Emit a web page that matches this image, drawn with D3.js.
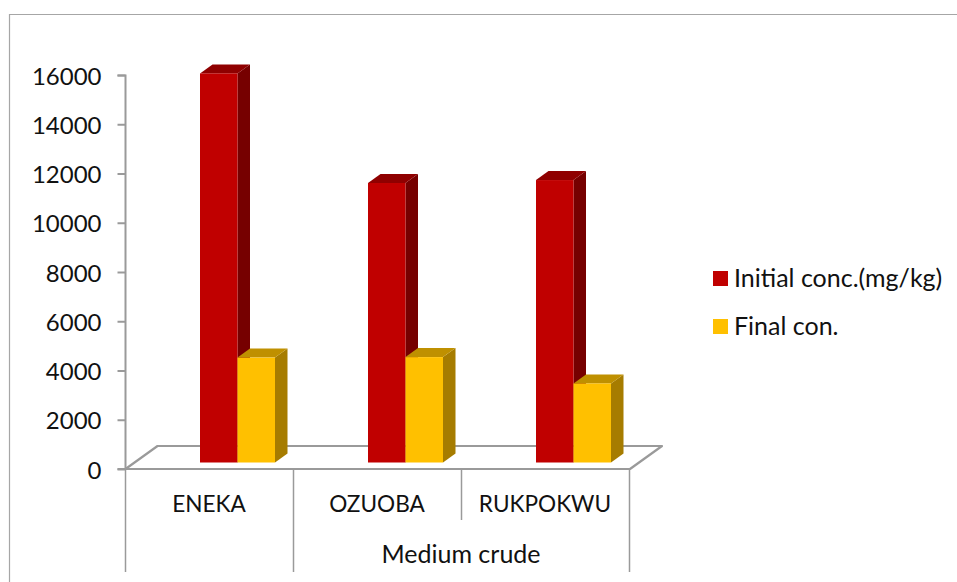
<!DOCTYPE html>
<html><head><meta charset="utf-8">
<script src="https://cdn.jsdelivr.net/npm/d3@7"></script>
<style>html,body{margin:0;padding:0;background:#fff}svg{display:block}text{font-family:Lato,"Open Sans",sans-serif;fill:#111}</style>
</head><body><svg id="c" width="957" height="582"></svg>
<script>
const categories=["ENEKA","OZUOBA","RUKPOKWU"];
const groupLabel="Medium crude";
const seriesNames=["Initial conc.(mg/kg)","Final con."];
const initialConc=[15800,11350,11470];
const finalCon=[4260,4280,3210];
const yTicks=[0,2000,4000,6000,8000,10000,12000,14000,16000];
const colors=[{f:"#c00000",t:"#8f0000",s:"#760000"},{f:"#ffc000",t:"#bf9000",s:"#a67c00"}];

const svg=d3.select("#c");
const y=d3.scaleLinear().domain([0,16000]).range([469,75]);
const x=d3.scaleBand().domain(categories).range([125.5,629.5]);
const inner=d3.scaleBand().domain(seriesNames).range([74.5,149.5]);
const grey="#9a9a9a";
svg.append("path").attr("d","M9.5,582V14.5H957").attr("fill","none").attr("stroke","#a6a6a6").attr("stroke-width",1.2);
const floorD={dx:32,dy:-23};
svg.append("path").attr("d",`M125.5,469 l${floorD.dx},${floorD.dy} H662 l${-floorD.dx},${-floorD.dy} H125.5`)
 .attr("fill","#fff").attr("stroke",grey).attr("stroke-width",2.2).attr("stroke-linejoin","round");
const yAxis=d3.axisLeft(y).tickValues(yTicks).tickFormat(d3.format("d")).tickSize(8).tickPadding(16);
const ga=svg.append("g").attr("transform","translate(125.5,0)").call(yAxis);
ga.selectAll("path,line").attr("stroke",grey).attr("stroke-width",2);
ga.select(".domain").attr("d","M-8,75.5H0V469H-8");
ga.selectAll("text").attr("font-size",24).attr("fill","#111").attr("font-family","Lato").attr("dy","0.38em");
const edges=[125.5,293.5,461.5,629.5];
const edgeEnd=[572,572,520,572];
svg.selectAll(".div").data(edges).join("line").attr("class","div")
 .attr("x1",d=>d).attr("x2",d=>d).attr("y1",469).attr("y2",(d,i)=>edgeEnd[i]).attr("stroke",grey).attr("stroke-width",1.5);
const baseY=462.5, depth={dx:12.5,dy:-9};
const shiftY=baseY-469;
[initialConc,finalCon].forEach((vals,si)=>{
  const c=colors[si];
  categories.forEach((cat,i)=>{
    const x0=x(cat)+inner(seriesNames[si]), w=inner.bandwidth(), top=y(vals[i])+shiftY;
    const g=svg.append("g");
    g.append("path").attr("d",`M${x0+w},${baseY} l${depth.dx},${depth.dy} V${top+depth.dy} l${-depth.dx},${-depth.dy} Z`).attr("fill",c.s);
    g.append("path").attr("d",`M${x0},${top} l${depth.dx},${depth.dy} h${w} l${-depth.dx},${-depth.dy} Z`).attr("fill",c.t);
    g.append("rect").attr("x",x0).attr("y",top).attr("width",w).attr("height",baseY-top).attr("fill",c.f);
  });
});
svg.selectAll(".cat").data(categories).join("text").attr("class","cat")
 .attr("x",d=>x(d)+x.bandwidth()/2-0.5).attr("y",512).attr("text-anchor","middle").attr("font-size",22.6).text(d=>d);
svg.append("text").attr("x",461).attr("y",563).attr("text-anchor","middle").attr("font-size",25).text(groupLabel);
const legY=[278.5,326.5];
seriesNames.forEach((n,i)=>{
  svg.append("rect").attr("x",713).attr("y",legY[i]-7.5).attr("width",15).attr("height",15).attr("fill",colors[i].f);
  svg.append("text").attr("x",734).attr("y",legY[i]+8.5).attr("font-size",25).text(n);
});
</script></body></html>
